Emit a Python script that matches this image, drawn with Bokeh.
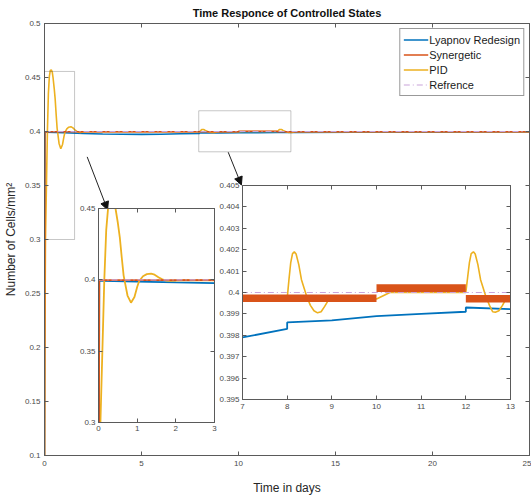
from bokeh.plotting import figure
from bokeh.models import (Range1d, LinearAxis, FixedTicker, CustomJSTickFormatter,
                          BoxAnnotation, Arrow, NormalHead, Legend, LegendItem)
from bokeh.layouts import column
from bokeh.embed import file_html
from bokeh.resources import INLINE

FONT = "Liberation Sans"

# ---- responses (time in days, cells/mm^2) ----
lyap_t = [0.0, 0.02, 0.1, 1.0, 2.0, 3.0, 4.0, 5.0, 6.0, 7.0, 8.0, 8.0, 9.0,
          10.0, 11.0, 12.0, 12.0, 13.0, 16.0, 20.0, 25.0]
lyap_v = [0.1, 0.3993, 0.3993, 0.3988, 0.3982, 0.3977, 0.3974, 0.3973, 0.3975,
          0.3979, 0.3983, 0.3986, 0.3987, 0.3989, 0.3990, 0.3991, 0.3993,
          0.39922, 0.3993, 0.3994, 0.3995]

# synergetic controller chatters inside a narrow band
syn_t = [0.0, 0.02, 10.0, 10.0, 12.0, 12.0, 25.0]
syn_lo = [0.1, 0.39956, 0.39956, 0.40002, 0.40002, 0.39953, 0.39953]
syn_hi = [0.1, 0.39991, 0.39991, 0.40038, 0.40038, 0.39988, 0.39988]

pid_t = [0.0, 0.02, 0.05, 0.1, 0.15, 0.2, 0.25, 0.3, 0.35, 0.4, 0.44, 0.5,
         0.55, 0.6, 0.65, 0.75, 0.84, 0.93, 1.0, 1.05, 1.15, 1.25, 1.36, 1.45,
         1.55, 1.65, 1.75, 1.85, 2.0, 2.2, 8.0, 8.04, 8.08, 8.12, 8.16, 8.2,
         8.26, 8.32, 8.38, 8.44, 8.52, 8.6, 8.68, 8.76, 8.84, 8.94, 10.0, 10.3,
         12.0, 12.04, 12.08, 12.12, 12.17, 12.21, 12.27, 12.33, 12.39, 12.45,
         12.53, 12.6, 12.66, 12.74, 12.82, 12.9, 25.0]
pid_v = [0.1, 0.2, 0.30, 0.35, 0.40, 0.435, 0.451, 0.4565, 0.457, 0.455, 0.45,
         0.44, 0.43, 0.416, 0.403, 0.389, 0.384, 0.388, 0.395, 0.399, 0.4025,
         0.404, 0.4044, 0.4036, 0.4018, 0.4003, 0.3994, 0.3992, 0.3995, 0.3997,
         0.3997, 0.4006, 0.4014, 0.40182, 0.4019, 0.4018, 0.4013, 0.4006,
         0.4002, 0.3998, 0.3994, 0.39915, 0.39905, 0.3991, 0.39935, 0.3997,
         0.3997, 0.4000, 0.4000, 0.4007, 0.4014, 0.40182, 0.4019, 0.4018,
         0.4013, 0.4006, 0.4002, 0.3998, 0.3994, 0.3991, 0.39908, 0.39915,
         0.3994, 0.3997, 0.3997]

ref_t = [0.0, 25.0]
ref_v = [0.4, 0.4]

syn_mid = [(a + b) / 2 for a, b in zip(syn_lo, syn_hi)]

# ---- axis ticks ----
main_xticks = [0, 5, 10, 15, 20, 25]
main_yticks = [0.1, 0.15, 0.2, 0.25, 0.3, 0.35, 0.4, 0.45, 0.5]
in1_xticks = [0, 1, 2, 3]
in1_yticks = [0.3, 0.35, 0.4, 0.45]
in2_xticks = [7, 8, 9, 10, 11, 12, 13]
in2_yticks = [0.395, 0.396, 0.397, 0.398, 0.399, 0.4, 0.401, 0.402, 0.403,
              0.404, 0.405]

BLUE, RED, YEL, REF = "#0072BD", "#D95319", "#EDB120", "#C9A3DA"
AX = "#5a5a5a"
LBL = "#4a4a4a"

fmt = CustomJSTickFormatter(code="return Number(tick.toFixed(4)).toString();")
blank = CustomJSTickFormatter(code="return '';")


def style_axes(fig, xt, yt, size="8px"):
    """MATLAB-like box axes: inward ticks on all four sides."""
    bottom, left = fig.below[0], fig.left[0]
    for ax in (bottom, left):
        ax.axis_line_color = AX
        ax.major_tick_line_color = AX
        ax.major_tick_in = 4
        ax.major_tick_out = 0
        ax.minor_tick_line_color = None
        ax.major_label_text_font = FONT
        ax.major_label_text_font_size = size
        ax.major_label_text_color = LBL
        ax.formatter = fmt
    bottom.ticker = FixedTicker(ticks=xt)
    left.ticker = FixedTicker(ticks=yt)
    for loc, ticks in (("above", xt), ("right", yt)):
        fig.add_layout(LinearAxis(ticker=FixedTicker(ticks=ticks),
                                  formatter=blank,
                                  axis_line_color=AX, major_tick_line_color=AX,
                                  major_tick_in=4, major_tick_out=0,
                                  minor_tick_line_color=None,
                                  major_label_standoff=0), loc)
    fig.xgrid.visible = False
    fig.ygrid.visible = False
    fig.outline_line_color = AX
    return bottom, left


# ---- main axes ----
p = figure(frame_width=485, frame_height=432,
           min_border_left=44, min_border_right=2,
           min_border_top=23, min_border_bottom=44,
           x_range=Range1d(0, 25), y_range=Range1d(0.1, 0.5),
           output_backend="svg", toolbar_location=None,
           title="Time Responce of Controlled States")
p.title.align = "center"
p.title.vertical_align = "top"
p.title.text_font = FONT
p.title.text_font_size = "11px"
p.title.text_font_style = "bold"
p.title.text_color = "#111111"
p.title.standoff = 5
xa, ya = style_axes(p, main_xticks, main_yticks)
xa.major_label_standoff = 5
ya.major_label_standoff = 4
xa.axis_label = "Time in days"
ya.axis_label = "Number of Cells/mm²"
for ax in (xa, ya):
    ax.axis_label_text_font = FONT
    ax.axis_label_text_font_size = "12px"
    ax.axis_label_text_font_style = "normal"
    ax.axis_label_text_color = "#262626"
xa.axis_label_standoff = 12
ya.axis_label_standoff = 4

r_ly = p.line(lyap_t, lyap_v, color=BLUE, line_width=1.6)
r_pid = p.line(pid_t, pid_v, color=YEL, line_width=1.6)
r_syn = p.line(syn_t, syn_mid, color=RED, line_width=1.6)
r_ref = p.line(ref_t, ref_v, color=REF, line_width=1.2, line_dash="6 3 1 3")

# zoom windows and pointers
for l, r, b, t in [(0.0, 1.55, 0.3, 0.4556), (7.95, 12.7, 0.3812, 0.4192)]:
    p.add_layout(BoxAnnotation(left=l, right=r, bottom=b, top=t,
                               fill_alpha=0, line_color="#444444",
                               line_width=1))
for xs, ys, xe, ye in [(2.2, 0.3765, 3.25, 0.3275), (9.47, 0.3808, 10.15, 0.3505)]:
    p.add_layout(Arrow(x_start=xs, y_start=ys, x_end=xe, y_end=ye,
                       line_color="#222222", line_width=1,
                       end=NormalHead(size=8, fill_color="#111111",
                                      line_color="#111111")))

legend = Legend(items=[LegendItem(label="Lyapnov Redesign", renderers=[r_ly]),
                       LegendItem(label="Synergetic", renderers=[r_syn]),
                       LegendItem(label="PID", renderers=[r_pid]),
                       LegendItem(label="Refrence", renderers=[r_ref])],
                location="top_right", margin=5, padding=3, spacing=0,
                label_height=15, glyph_height=15, glyph_width=25,
                label_standoff=1, label_text_font=FONT,
                label_text_font_size="11px", label_text_color="#1a1a1a",
                border_line_color="#333333", border_line_width=1,
                background_fill_color="white", background_fill_alpha=1)
p.add_layout(legend)

# ---- inset: start-up transient ----
# (left border matches the main plot because the column aligns plot frames)
in1 = figure(frame_width=116, frame_height=214,
             min_border_left=44, min_border_right=12,
             min_border_top=5, min_border_bottom=20,
             x_range=Range1d(0, 3), y_range=Range1d(0.3, 0.45),
             output_backend="svg", toolbar_location=None,
             border_fill_alpha=0, background_fill_color="white")
bx1, lx1 = style_axes(in1, in1_xticks, in1_yticks)
bx1.major_label_standoff = 3
lx1.major_label_standoff = 3
in1.line(lyap_t, lyap_v, color=BLUE, line_width=1.8)
in1.line(pid_t, pid_v, color=YEL, line_width=1.8)
in1.line(syn_t, syn_mid, color=RED, line_width=1.8)
in1.line(ref_t, ref_v, color=REF, line_width=1.2, line_dash="6 3 1 3")
in1.styles = {"position": "absolute", "left": "54px", "top": "203px"}

# ---- inset: disturbance rejection, days 7-13 ----
in2 = figure(frame_width=268, frame_height=214,
             min_border_left=44, min_border_right=12,
             min_border_top=5, min_border_bottom=20,
             x_range=Range1d(7, 13), y_range=Range1d(0.395, 0.405),
             output_backend="svg", toolbar_location=None,
             border_fill_alpha=0, background_fill_color="white")
bx2, lx2 = style_axes(in2, in2_xticks, in2_yticks)
bx2.major_label_standoff = 4
lx2.major_label_standoff = 3
in2.line(lyap_t, lyap_v, color=BLUE, line_width=1.8)
in2.line(pid_t, pid_v, color=YEL, line_width=1.6)
in2.varea(x=syn_t, y1=syn_lo, y2=syn_hi, fill_color=RED)
in2.line(ref_t, ref_v, color=REF, line_width=1.2, line_dash="6 3 1 3")
in2.styles = {"position": "absolute", "left": "198px", "top": "180px"}

root = column(p, in1, in2, styles={"position": "relative"})
open("out.html", "w").write(file_html(root, INLINE))
